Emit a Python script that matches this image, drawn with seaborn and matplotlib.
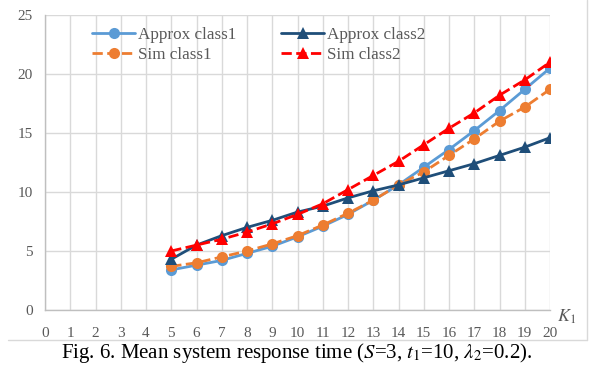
import matplotlib
matplotlib.use("Agg")
import matplotlib.pyplot as plt
import seaborn as sns
import pandas as pd
from matplotlib.lines import Line2D

K1 = [5, 6, 7, 8, 9, 10, 11, 12, 13, 14, 15, 16, 17, 18, 19, 20]
approx_class1 = [3.4, 3.8, 4.2, 4.8, 5.4, 6.2, 7.1, 8.1, 9.3, 10.6, 12.1, 13.6, 15.2, 16.9, 18.7, 20.5]
sim_class1 = [3.7, 4.0, 4.5, 5.0, 5.6, 6.3, 7.2, 8.2, 9.3, 10.6, 11.7, 13.1, 14.5, 16.0, 17.2, 18.7]
approx_class2 = [4.3, 5.5, 6.3, 7.0, 7.6, 8.3, 8.8, 9.5, 10.1, 10.6, 11.2, 11.8, 12.4, 13.1, 13.8, 14.6]
sim_class2 = [5.0, 5.5, 6.0, 6.6, 7.3, 8.1, 9.0, 10.2, 11.4, 12.6, 14.0, 15.4, 16.7, 18.2, 19.5, 21.0]
x_ticks = list(range(0, 21))
y_ticks = [0, 5, 10, 15, 20, 25]
caption = r"Fig. 6. Mean system response time ($S$=3, $t_1$=10, $\lambda_2$=0.2)."

sns.set_theme(style="white")
plt.rcParams['font.family'] = ['Liberation Serif', 'DejaVu Serif']
plt.rcParams['mathtext.fontset'] = 'stix'

fig = plt.figure(figsize=(5.94, 3.67), dpi=100)
ax = fig.add_axes([45/594, 1-310/367, (550-45)/594, (310-15)/367])

series = [
    ("Approx class1", approx_class1, "#5B9BD5", "-", "o"),
    ("Sim class1", sim_class1, "#ED7D31", "--", "o"),
    ("Approx class2", approx_class2, "#1F4E79", "-", "^"),
    ("Sim class2", sim_class2, "#FF0000", "--", "^"),
]
for name, vals, col, ls, mk in series:
    df = pd.DataFrame({"K1": K1, "val": vals})
    sns.lineplot(data=df, x="K1", y="val", ax=ax, color=col, linestyle=ls,
                 marker=mk, markersize=8, markeredgewidth=0, linewidth=2,
                 label=name)

ax.set_xlim(0, 20)
ax.set_ylim(0, 25)
ax.set_xticks(x_ticks)
ax.set_yticks(y_ticks)
ax.grid(True, color="#D9D9D9", linewidth=1)
ax.set_axisbelow(True)
for s in ["top", "right"]:
    ax.spines[s].set_visible(False)
for s in ["left", "bottom"]:
    ax.spines[s].set_color("#BFBFBF")
    ax.spines[s].set_linewidth(1)
ax.tick_params(axis="both", length=0, labelsize=11, labelcolor="#595959")
ax.tick_params(axis="x", pad=12)
ax.tick_params(axis="y", pad=9)
ax.set_xlabel("")
ax.set_ylabel("")

leg = ax.legend(ncol=2, loc="upper left", bbox_to_anchor=(0.07, 1.0), frameon=False,
                handlelength=2.5, fontsize=12.3, columnspacing=2.6,
                labelspacing=0.25, handletextpad=0.2, borderaxespad=0.3)
for t in leg.get_texts():
    t.set_color("#595959")

fig.text(567/594, 1-317/367, r"$K_1$", fontsize=13, color="#595959",
         ha="center", va="center")

# chart-area border (bottom and right edges)
fig.add_artist(Line2D([8/594, 587/594], [1-340/367, 1-340/367],
                      transform=fig.transFigure, color="#D9D9D9", linewidth=1))
fig.add_artist(Line2D([587/594, 587/594], [1-340/367, 1.0],
                      transform=fig.transFigure, color="#D9D9D9", linewidth=1))

fig.text(0.5, 1-353/367, caption, fontsize=15, color="black",
         ha="center", va="center")

fig.savefig("out.png", dpi=100)
